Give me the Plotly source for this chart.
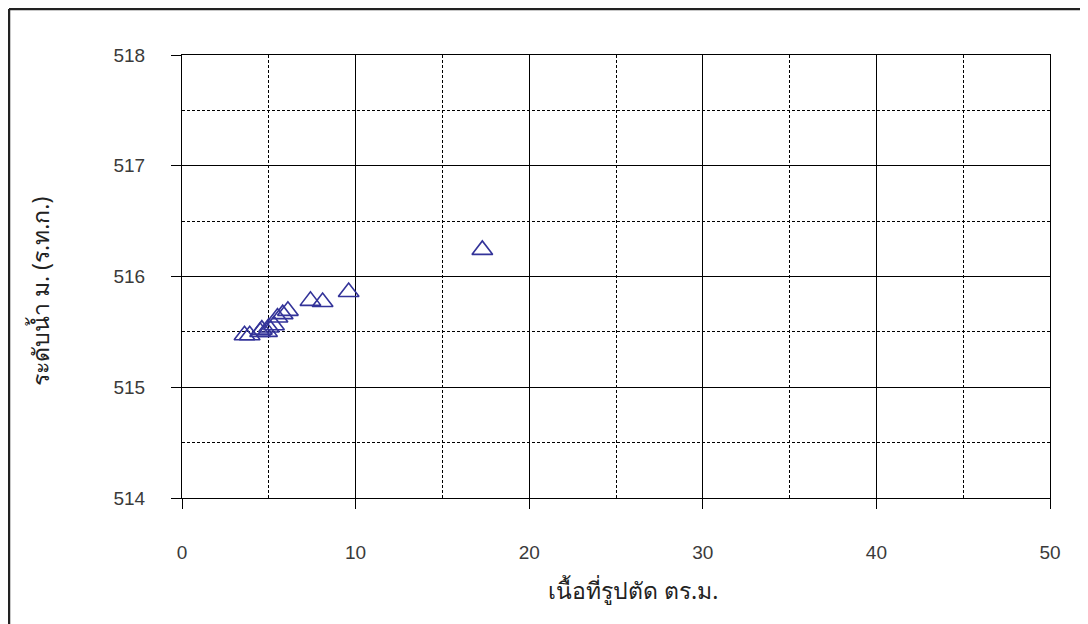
import plotly.graph_objects as go

# Data
area = [3.6, 3.9, 4.5, 4.6, 4.9, 5.0, 5.3, 5.5, 5.8, 6.1, 7.4, 8.1, 9.6, 17.3]
level = [515.47, 515.47, 515.5, 515.52, 515.5, 515.54, 515.56, 515.63, 515.66, 515.69, 515.78, 515.77, 515.86, 516.24]

x_title = "เนื้อที่รูปตัด ตร.ม."
y_title = "ระดับน้ำ ม. (ร.ท.ก.)"

W, H = 1088, 624
OFF = 8  # page body margin
PL, PT, PR, PB = 182, 55, 1050, 498  # plot area in page pixels
L, T = PL - OFF, PT - OFF
pw, ph = PR - PL, PB - PT
R, B = W - L - pw, H - T - ph


def px(X):
    return (X - PL) / pw


def py(Y):
    return (PB - Y) / ph


fig = go.Figure()
fig.add_trace(go.Scatter(
    x=area, y=level, mode="markers",
    marker=dict(symbol="triangle-up-open", size=18, color="#333399",
                line=dict(width=1.6, color="#333399")),
    showlegend=False,
))

font_tick = dict(family="Liberation Sans, Arial, sans-serif", size=19, color="#3a3a3a")

fig.update_xaxes(
    range=[0, 50], dtick=10, tick0=0,
    showline=True, linecolor="black", linewidth=1, mirror=True,
    ticks="outside", ticklen=10, tickcolor="black",
    showgrid=True, gridcolor="black", gridwidth=1,
    minor=dict(dtick=5, showgrid=True, gridcolor="black", griddash="3px,2px", gridwidth=1, ticks=""),
    zeroline=False, tickfont=font_tick, ticklabelstandoff=27,
)
fig.update_yaxes(
    range=[514, 518], dtick=1, tick0=514,
    showline=True, linecolor="black", linewidth=1, mirror=True,
    ticks="outside", ticklen=10, tickcolor="black",
    showgrid=True, gridcolor="black", gridwidth=1,
    minor=dict(dtick=0.5, showgrid=True, gridcolor="black", griddash="3px,2px", gridwidth=1, ticks=""),
    zeroline=False, tickfont=font_tick, ticklabelstandoff=22,
)

title_font = dict(family="Noto Sans, DejaVu Sans, sans-serif", size=23, color="#222222")
fig.add_annotation(text=x_title, xref="paper", yref="paper",
                   x=px(633), y=py(590), showarrow=False,
                   xanchor="center", yanchor="middle", font=title_font)
fig.add_annotation(text=y_title, xref="paper", yref="paper",
                   x=px(40), y=py(292), showarrow=False,
                   textangle=-90, xanchor="center", yanchor="middle", font=title_font)

# outer frame lines (top and left)
fig.add_shape(type="line", xref="paper", yref="paper",
              x0=px(9), x1=px(W + 20), y0=py(9), y1=py(9),
              line=dict(color="#222222", width=2.5))
fig.add_shape(type="line", xref="paper", yref="paper",
              x0=px(9), x1=px(9), y0=py(9), y1=py(H + 20),
              line=dict(color="#222222", width=2.5))

fig.update_layout(
    width=W, height=H,
    margin=dict(l=L, r=R, t=T, b=B, autoexpand=False),
    plot_bgcolor="white", paper_bgcolor="white",
)
fig.write_html("out.html")
